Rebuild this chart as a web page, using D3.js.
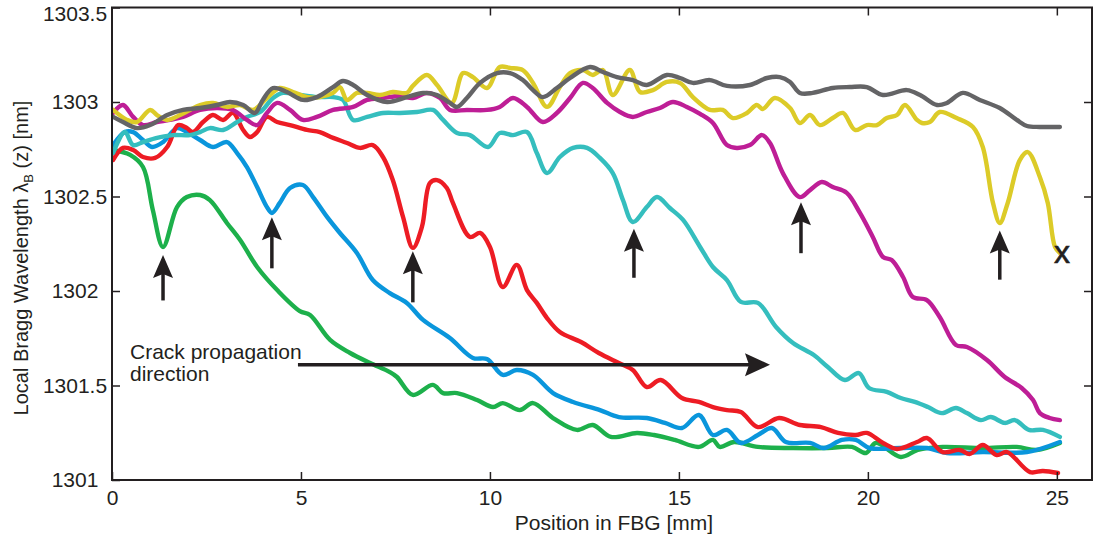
<!DOCTYPE html>
<html lang="en">
<head>
<meta charset="UTF-8">
<title>Local Bragg wavelength</title>
<script src="https://cdn.jsdelivr.net/npm/d3@7"></script>
<style>
  body { margin: 0; background: #fff; }
  svg { font-family: "Liberation Sans", Arial, sans-serif; }
</style>
</head>
<body>
<svg id="chart" width="1094" height="539"></svg>
<script>
// ---- data: [position mm, wavelength nm] ----
var green = [[0.03,1302.746],[0.48,1302.72],[0.82,1302.656],[1.08,1302.429],[1.35,1302.233],[1.72,1302.444],[1.98,1302.497],[2.33,1302.508],[2.59,1302.481],[3.04,1302.36],[3.39,1302.27],[3.84,1302.127],[4.37,1302.005],[4.97,1301.894],[5.24,1301.873],[5.77,1301.741],[6.3,1301.672],[6.83,1301.619],[7.35,1301.571],[7.54,1301.545],[7.96,1301.45],[8.49,1301.503],[8.76,1301.46],[9.13,1301.46],[9.66,1301.423],[10.08,1301.386],[10.34,1301.407],[10.79,1301.37],[11.14,1301.407],[11.67,1301.328],[12.3,1301.265],[12.72,1301.291],[13.2,1301.228],[13.89,1301.249],[14.34,1301.238],[14.89,1301.212],[15.53,1301.175],[15.9,1301.212],[16.08,1301.175],[16.46,1301.201],[17.09,1301.175],[18.02,1301.169],[18.94,1301.169],[19.58,1301.175],[19.95,1301.143],[20.21,1301.196],[20.87,1301.122],[21.32,1301.159],[21.98,1301.175],[23.04,1301.169],[23.94,1301.175],[24.47,1301.159],[25.08,1301.196]];

var blue = [[0.03,1302.772],[0.34,1302.841],[0.56,1302.841],[0.82,1302.799],[1.06,1302.762],[1.35,1302.788],[1.72,1302.862],[1.98,1302.841],[2.33,1302.799],[2.67,1302.762],[3.04,1302.788],[3.31,1302.73],[3.57,1302.656],[3.84,1302.55],[4.1,1302.444],[4.23,1302.413],[4.44,1302.466],[4.71,1302.545],[5.05,1302.561],[5.32,1302.497],[5.69,1302.392],[6.03,1302.307],[6.48,1302.201],[6.9,1302.058],[7.35,1301.989],[7.8,1301.937],[8.23,1301.847],[8.94,1301.751],[9.55,1301.646],[9.92,1301.64],[10.34,1301.556],[10.71,1301.582],[11.14,1301.556],[11.67,1301.46],[12.2,1301.413],[12.91,1301.37],[13.41,1301.333],[14.15,1301.328],[14.63,1301.302],[15.08,1301.275],[15.53,1301.344],[15.9,1301.238],[16.27,1301.265],[16.64,1301.196],[17.09,1301.238],[17.46,1301.275],[17.83,1301.201],[18.47,1301.196],[18.84,1301.169],[19.31,1301.212],[19.68,1301.212],[20.05,1301.169],[20.85,1301.169],[21.56,1301.169],[22.09,1301.143],[23.04,1301.148],[24.21,1301.148],[25.08,1301.201]];

var red = [[0.03,1302.693],[0.29,1302.757],[0.56,1302.746],[0.82,1302.709],[1.14,1302.704],[1.46,1302.762],[1.75,1302.878],[1.98,1302.862],[2.14,1302.841],[2.41,1302.894],[2.67,1302.931],[2.94,1302.905],[3.2,1302.942],[3.47,1302.852],[3.65,1302.815],[3.84,1302.841],[4.1,1302.921],[4.37,1302.894],[4.71,1302.878],[5.16,1302.852],[5.5,1302.841],[5.85,1302.81],[6.22,1302.783],[6.56,1302.757],[6.9,1302.772],[7.17,1302.709],[7.43,1302.587],[7.7,1302.392],[7.96,1302.228],[8.2,1302.339],[8.41,1302.571],[8.6,1302.587],[8.86,1302.545],[9.02,1302.466],[9.47,1302.286],[9.74,1302.307],[10.0,1302.233],[10.34,1302.021],[10.71,1302.138],[10.98,1302.005],[11.24,1301.937],[11.51,1301.857],[11.85,1301.783],[12.41,1301.73],[12.88,1301.672],[13.41,1301.619],[13.78,1301.582],[14.15,1301.492],[14.52,1301.529],[15.08,1301.434],[15.53,1301.413],[15.9,1301.386],[16.27,1301.37],[16.64,1301.36],[17.09,1301.28],[17.65,1301.328],[18.2,1301.291],[18.76,1301.28],[19.21,1301.249],[19.68,1301.238],[19.97,1301.249],[20.4,1301.196],[20.77,1301.164],[21.3,1301.201],[21.56,1301.222],[21.98,1301.148],[22.43,1301.159],[22.7,1301.138],[23.04,1301.185],[23.41,1301.132],[23.68,1301.148],[24.29,1301.042],[24.63,1301.048],[25.03,1301.037]];

var cyan = [[0.03,1302.73],[0.34,1302.841],[0.56,1302.772],[0.82,1302.788],[1.19,1302.81],[1.61,1302.825],[2.06,1302.825],[2.33,1302.841],[2.59,1302.862],[2.94,1302.852],[3.31,1302.894],[3.57,1302.921],[3.92,1302.947],[4.26,1303.021],[4.52,1303.048],[4.97,1303.037],[5.42,1303.026],[5.85,1303.026],[6.11,1303.011],[6.38,1302.905],[6.75,1302.921],[7.17,1302.942],[7.62,1302.942],[8.07,1302.947],[8.49,1302.958],[8.76,1302.905],[9.13,1302.836],[9.47,1302.825],[9.95,1302.762],[10.26,1302.836],[10.61,1302.825],[10.98,1302.841],[11.24,1302.73],[11.51,1302.624],[11.85,1302.709],[12.2,1302.757],[12.57,1302.757],[12.91,1302.704],[13.25,1302.624],[13.52,1302.481],[13.78,1302.365],[14.15,1302.444],[14.42,1302.497],[14.76,1302.439],[15.11,1302.376],[15.56,1302.233],[15.9,1302.127],[16.27,1302.058],[16.64,1301.942],[17.09,1301.937],[17.57,1301.81],[18.02,1301.725],[18.57,1301.661],[18.94,1301.598],[19.39,1301.529],[19.76,1301.566],[20.03,1301.487],[20.5,1301.466],[20.87,1301.434],[21.24,1301.413],[21.59,1301.386],[21.96,1301.354],[22.33,1301.381],[22.62,1301.354],[22.99,1301.317],[23.25,1301.333],[23.62,1301.302],[23.89,1301.317],[24.26,1301.265],[24.63,1301.265],[25.08,1301.228]];

var magenta = [[0.03,1302.942],[0.29,1302.984],[0.56,1302.921],[0.82,1302.878],[1.19,1302.894],[1.53,1302.905],[1.88,1302.921],[2.33,1302.958],[2.78,1302.968],[3.2,1302.958],[3.57,1302.905],[3.84,1302.878],[4.1,1302.942],[4.37,1302.995],[4.71,1302.958],[5.05,1302.905],[5.42,1302.921],[5.85,1302.958],[6.38,1302.974],[6.75,1303.011],[7.17,1303.021],[7.62,1303.032],[7.96,1303.021],[8.33,1303.048],[8.68,1303.021],[8.94,1302.958],[9.39,1302.958],[9.92,1302.958],[10.26,1302.974],[10.61,1303.021],[10.98,1302.974],[11.4,1302.894],[11.77,1302.942],[12.12,1303.021],[12.46,1303.101],[12.72,1303.074],[13.1,1302.995],[13.44,1302.947],[13.78,1302.921],[14.15,1302.947],[14.5,1302.968],[14.84,1303.0],[15.21,1302.974],[15.56,1302.937],[15.9,1302.889],[16.27,1302.772],[16.53,1302.757],[16.88,1302.772],[17.2,1302.825],[17.41,1302.783],[17.75,1302.624],[18.2,1302.497],[18.47,1302.534],[18.78,1302.577],[19.07,1302.55],[19.44,1302.519],[19.79,1302.413],[20.13,1302.286],[20.4,1302.18],[20.63,1302.164],[20.93,1302.074],[21.19,1301.968],[21.56,1301.952],[21.9,1301.862],[22.33,1301.714],[22.62,1301.704],[23.15,1301.635],[23.62,1301.545],[24.07,1301.487],[24.37,1301.423],[24.55,1301.354],[24.81,1301.328],[25.08,1301.317]];

var yellow = [[0.03,1302.958],[0.4,1302.905],[0.66,1302.894],[1.01,1302.958],[1.19,1302.931],[1.46,1302.905],[1.8,1302.931],[2.06,1302.958],[2.33,1302.984],[2.67,1302.995],[3.04,1302.974],[3.39,1302.984],[3.73,1302.958],[4.1,1303.021],[4.44,1303.074],[4.79,1303.053],[5.16,1303.026],[5.5,1303.026],[5.85,1303.048],[6.03,1303.079],[6.22,1303.011],[6.48,1303.048],[6.75,1303.048],[7.09,1303.037],[7.43,1303.053],[7.8,1303.048],[7.96,1303.085],[8.33,1303.143],[8.6,1303.09],[8.99,1302.995],[9.29,1303.153],[9.55,1303.132],[9.92,1303.074],[10.26,1303.185],[10.53,1303.18],[10.87,1303.169],[11.14,1303.101],[11.51,1302.974],[11.85,1303.079],[12.12,1303.153],[12.46,1303.169],[12.72,1303.143],[12.99,1303.169],[13.25,1303.037],[13.7,1303.169],[13.97,1303.053],[14.31,1303.063],[14.68,1303.106],[15.03,1303.101],[15.37,1303.026],[15.82,1302.958],[16.16,1302.958],[16.43,1302.915],[16.8,1302.942],[17.06,1302.984],[17.22,1302.963],[17.54,1303.021],[17.94,1302.968],[18.2,1302.889],[18.47,1302.931],[18.73,1302.878],[19.07,1302.915],[19.34,1302.942],[19.66,1302.852],[19.97,1302.878],[20.24,1302.878],[20.5,1302.915],[20.77,1302.931],[20.98,1302.984],[21.3,1302.905],[21.43,1302.889],[21.64,1302.894],[21.9,1302.947],[22.35,1302.915],[22.78,1302.868],[23.04,1302.762],[23.31,1302.466],[23.49,1302.36],[23.7,1302.466],[24.02,1302.693],[24.23,1302.735],[24.55,1302.603],[24.76,1302.466],[24.95,1302.233],[25.08,1302.201]];

var gray = [[0.03,1302.921],[0.29,1302.894],[0.66,1302.862],[1.01,1302.878],[1.46,1302.931],[1.88,1302.958],[2.33,1302.968],[2.78,1302.984],[3.12,1303.0],[3.47,1302.984],[3.78,1302.942],[3.99,1303.011],[4.26,1303.074],[4.63,1303.053],[5.05,1303.011],[5.42,1303.026],[5.85,1303.079],[6.11,1303.111],[6.38,1303.09],[6.75,1303.037],[7.28,1303.0],[7.8,1303.026],[8.23,1303.048],[8.6,1303.037],[8.94,1302.995],[9.13,1302.974],[9.39,1303.021],[9.74,1303.101],[10.19,1303.153],[10.53,1303.153],[10.87,1303.116],[11.14,1303.063],[11.4,1303.026],[11.77,1303.074],[12.12,1303.127],[12.65,1303.185],[12.99,1303.159],[13.36,1303.132],[13.78,1303.116],[14.15,1303.09],[14.68,1303.143],[15.03,1303.127],[15.37,1303.101],[15.82,1303.116],[16.27,1303.085],[16.88,1303.09],[17.33,1303.127],[17.67,1303.132],[17.94,1303.106],[18.2,1303.048],[18.54,1303.048],[19.07,1303.074],[19.52,1303.079],[19.97,1303.079],[20.4,1303.037],[21.03,1303.063],[21.38,1303.037],[21.83,1302.984],[22.09,1302.995],[22.51,1303.048],[22.96,1303.011],[23.49,1302.968],[23.94,1302.905],[24.21,1302.873],[24.55,1302.868],[25.08,1302.868]];

var seriesList  = [green, blue, red, cyan, magenta, yellow, gray];
var seriesColor = ["#1db04b", "#0a96dc", "#ed1c24", "#35bebe", "#be1e96", "#dccb28", "#646466"];

// crack-tip arrows: position, tip and tail wavelength
var arrowX    = [1.35, 4.23, 7.96, 13.81, 18.23, 23.49];
var arrowTip  = [1302.19, 1302.39, 1302.21, 1302.33, 1302.47, 1302.32];
var arrowTail = [1301.95, 1302.12, 1301.94, 1302.07, 1302.2, 1302.06];

var crackFrom = 4.92, crackTo = 17.41, crackLevel = 1301.61;

var xTicks = [0, 5, 10, 15, 20, 25];
var yTicks = [1301, 1301.5, 1302, 1302.5, 1303, 1303.5];

// ---- chart ----
var svg = d3.select("#chart");
var plotL = 112, plotR = 1092, plotT = 7.5, plotB = 480;

var x = d3.scaleLinear().domain([0, 25.93]).range([plotL, plotR]);
var y = d3.scaleLinear().domain([1301, 1303.5]).range([plotB, plotT]);

svg.append("clipPath").attr("id", "plotclip")
  .append("rect").attr("x", plotL).attr("y", plotT)
  .attr("width", plotR - plotL).attr("height", plotB - plotT);

var line = d3.line()
  .x(function(d) { return x(d[0]); })
  .y(function(d) { return y(d[1]); })
  .curve(d3.curveCatmullRom.alpha(0.5));

var lines = svg.append("g").attr("clip-path", "url(#plotclip)");
seriesList.forEach(function(s, i) {
  lines.append("path")
    .attr("d", line(s))
    .attr("fill", "none")
    .attr("stroke", seriesColor[i])
    .attr("stroke-width", 4.4)
    .attr("stroke-linejoin", "round")
    .attr("stroke-linecap", "round");
});

// axes, ticks point inward on all four sides
function styleAxis(g) {
  g.select(".domain").remove();
  g.selectAll(".tick line").attr("stroke", "#231f20").attr("stroke-width", 1.5);
  g.selectAll(".tick text").attr("fill", "#231f20").style("font-size", "21px");
}

svg.append("g").attr("transform", "translate(0," + plotB + ")")
  .call(d3.axisBottom(x).tickValues(xTicks).tickSize(-8).tickPadding(10).tickFormat(d3.format("d")))
  .call(styleAxis);
svg.append("g").attr("transform", "translate(0," + plotT + ")")
  .call(d3.axisTop(x).tickValues(xTicks.slice(1)).tickSize(-8).tickFormat(""))
  .call(styleAxis);
var yAxis = svg.append("g").attr("transform", "translate(" + plotL + ",0)")
  .call(d3.axisLeft(y).tickValues(yTicks).tickSize(-8).tickFormat(function(d) { return String(d); }))
  .call(styleAxis);
yAxis.selectAll(".tick text").attr("text-anchor", "middle").attr("x", 75 - plotL);
yAxis.selectAll(".tick text").filter(function(d) { return d === 1303.5; }).attr("dy", "0.62em");
svg.append("g").attr("transform", "translate(" + plotR + ",0)")
  .call(d3.axisRight(y).tickValues(yTicks.slice(1, 5)).tickSize(-8).tickFormat(""))
  .call(styleAxis);

// frame
svg.append("path")
  .attr("d", "M" + plotL + "," + plotT + "H" + plotR + "V" + plotB + "H" + plotL + "Z")
  .attr("fill", "none").attr("stroke", "#231f20").attr("stroke-width", 2);

// axis titles
svg.append("text")
  .attr("x", (513 + 715) / 2).attr("y", 530)
  .attr("text-anchor", "middle").style("font-size", "21px").attr("fill", "#231f20")
  .text("Position in FBG [mm]");

var yt = svg.append("text")
  .attr("transform", "translate(28,258) rotate(-90)")
  .attr("text-anchor", "middle").style("font-size", "20px").attr("fill", "#231f20");
yt.append("tspan").text("Local Bragg Wavelength \u03bb");
yt.append("tspan").attr("dy", 5).style("font-size", "13px").text("B");
yt.append("tspan").attr("dy", -5).text(" (z) [nm]");

// crack-tip arrows
var ink = "#231f20";
var arrows = svg.append("g");
arrowX.forEach(function(v, i) {
  var cx = x(v), ty = y(arrowTip[i]), by = y(arrowTail[i]);
  arrows.append("line")
    .attr("x1", cx).attr("x2", cx).attr("y1", ty + 16).attr("y2", by)
    .attr("stroke", ink).attr("stroke-width", 3.5);
  arrows.append("path")
    .attr("d", "M" + cx + "," + ty + "L" + (cx - 10) + "," + (ty + 23) +
               "L" + cx + "," + (ty + 19) + "L" + (cx + 10) + "," + (ty + 23) + "Z")
    .attr("fill", ink);
});

// crack propagation arrow and label
var cy = y(crackLevel), x0 = x(crackFrom), x1 = x(crackTo);
svg.append("line")
  .attr("x1", x0).attr("x2", x1 - 18).attr("y1", cy).attr("y2", cy)
  .attr("stroke", ink).attr("stroke-width", 3.5);
svg.append("path")
  .attr("d", "M" + x1 + "," + cy + "L" + (x1 - 25) + "," + (cy - 11.5) +
             "L" + (x1 - 21) + "," + cy + "L" + (x1 - 25) + "," + (cy + 11.5) + "Z")
  .attr("fill", ink);

var lab = svg.append("text").style("font-size", "21px").attr("fill", ink);
lab.append("tspan").attr("x", 130).attr("y", 359).text("Crack propagation");
lab.append("tspan").attr("x", 130).attr("y", 381).text("direction");

// end of the last grating
var last = yellow[yellow.length - 1];
svg.append("text")
  .attr("x", x(last[0]) + 2).attr("y", y(last[1]) + 10)
  .attr("text-anchor", "middle").style("font-size", "32px")
  .attr("fill", ink).attr("stroke", ink).attr("stroke-width", 0.6)
  .text("x");
</script>
</body>
</html>
